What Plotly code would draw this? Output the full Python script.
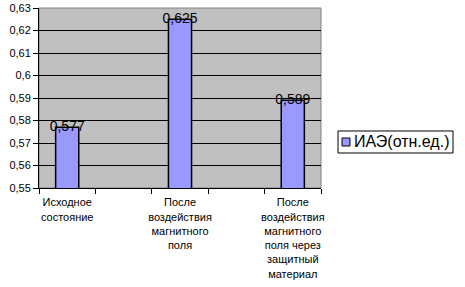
import plotly.graph_objects as go

categories = [
    "Исходное<br>состояние",
    " ",
    "После<br>воздействия<br>магнитного<br>поля",
    "  ",
    "После<br>воздействия<br>магнитного<br>поля через<br>защитный<br>материал",
]
values = [0.577, None, 0.625, None, 0.589]
series_name = "ИАЭ(отн.ед.)"
y_ticks = [0.55, 0.56, 0.57, 0.58, 0.59, 0.60, 0.61, 0.62, 0.63]
y_ticktext = ["0,55", "0,56", "0,57", "0,58", "0,59", "0,6", "0,61", "0,62", "0,63"]
labels = [("%.3f" % v).replace(".", ",") if v is not None else None for v in values]

FONT = "Liberation Sans, Arial, sans-serif"
BAR_COLOR = "#9999FF"

fig = go.Figure()
fig.add_trace(go.Bar(
    x=categories, y=values, name=series_name,
    marker=dict(color=BAR_COLOR, line=dict(color="black", width=1.5)),
    width=0.41, showlegend=False,
))
fig.add_trace(go.Scatter(
    x=categories, y=values, mode="text", text=labels,
    textposition="middle center",
    textfont=dict(family=FONT, size=14, color="black"),
    showlegend=False, hoverinfo="skip", cliponaxis=False,
))

# plot-area border
fig.add_shape(type="rect", xref="paper", yref="paper", x0=0, x1=1, y0=0, y1=1,
              line=dict(color="#808080", width=1), layer="below")

# legend box (Excel-style)
fig.add_shape(type="rect", xref="paper", yref="paper",
              x0=1.0603, x1=1.4681, y0=0.1944, y1=0.3167,
              fillcolor="white", line=dict(color="black", width=1))
fig.add_shape(type="rect", xref="paper", yref="paper",
              x0=1.0745, x1=1.1028, y0=0.2333, y1=0.2778,
              fillcolor=BAR_COLOR, line=dict(color="black", width=1))
fig.add_annotation(
    xref="paper", yref="paper", x=1.461, y=0.2556, xanchor="right", yanchor="middle",
    text=series_name, showarrow=False,
    font=dict(family=FONT, size=16, color="black"),
)

fig.update_layout(
    width=465, height=287,
    margin=dict(l=39, r=144, t=8, b=99, autoexpand=False),
    paper_bgcolor="white", plot_bgcolor="#C0C0C0",
    font=dict(family=FONT, size=11, color="black"),
    showlegend=False,
    xaxis=dict(type="category", tickson="boundaries", ticks="outside", ticklen=5,
               tickcolor="black", showline=True, linecolor="black", linewidth=1,
               showgrid=False, tickangle=0, tickfont=dict(size=11),
               ticklabelstandoff=4),
    yaxis=dict(range=[0.55, 0.63], tickvals=y_ticks, ticktext=y_ticktext,
               ticks="outside", ticklen=5, tickcolor="black",
               showline=True, linecolor="black", linewidth=1,
               showgrid=True, gridcolor="black", gridwidth=1,
               zeroline=False, tickfont=dict(size=11)),
)

fig.write_html("out.html")
